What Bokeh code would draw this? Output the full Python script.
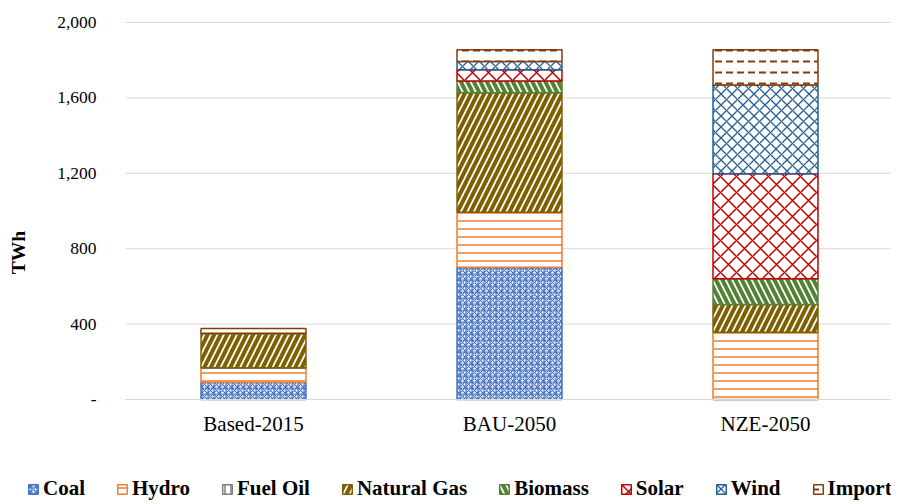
from bokeh.plotting import figure
from bokeh.models import ColumnDataSource, FixedTicker, Range1d, Legend
from bokeh.embed import file_html
from bokeh.resources import INLINE

categories = ["Based-2015", "BAU-2050", "NZE-2050"]
coal = [92, 702, 0]
hydro = [74, 291, 357]
fuel_oil = [3, 0, 0]
natural_gas = [180, 634, 147]
biomass = [3, 62, 136]
solar = [0, 60, 557]
wind = [0, 44, 472]
imports = [24, 62, 186]

series_names = ["Coal", "Hydro", "Fuel Oil", "Natural Gas", "Biomass", "Solar", "Wind", "Import"]
keys = ["coal", "hydro", "fuel_oil", "natural_gas", "biomass", "solar", "wind", "imports"]
colors = ["#4472C4", "#ED7D31", "#7F7F7F", "#7F6000", "#548235", "#C00000", "#255E91", "#843C0C"]
patterns = ["criss_cross", "horizontal_line", "vertical_line", "right_diagonal_line",
            "left_diagonal_line", "diagonal_cross", "diagonal_cross", "horizontal_dash"]
scales = [6, 8, 6, 13, 13, 16, 11, 11]
weights = [1.2, 1.5, 1.5, 4, 4, 1.5, 1.3, 2]

y_ticks = [0, 400, 800, 1200, 1600, 2000]
y_labels = ["-", "400", "800", "1,200", "1,600", "2,000"]

n = len(categories)
xpos = [i + 0.5 for i in range(n)]

source = ColumnDataSource(dict(x=xpos, coal=coal, hydro=hydro, fuel_oil=fuel_oil,
                               natural_gas=natural_gas, biomass=biomass, solar=solar,
                               wind=wind, imports=imports))

W, H = 891, 504
left_px, cat_px = 125, 256.0
top_px, zero_px = 22, 399
y_max = 2000
px_per_unit = (zero_px - top_px) / y_max

p = figure(x_range=Range1d(-left_px / cat_px, (W - left_px) / cat_px),
           y_range=Range1d(-(H - zero_px) / px_per_unit, y_max + top_px / px_per_unit),
           width=W, height=H, output_backend="svg", toolbar_location=None,
           min_border_left=0, min_border_right=0, min_border_top=0, min_border_bottom=0)
p.outline_line_color = None
p.xgrid.visible = False
p.ygrid.visible = False

# horizontal gridlines across the category area
p.segment(x0=[0] * len(y_ticks), x1=[n] * len(y_ticks), y0=y_ticks, y1=y_ticks,
          line_color="#D9D9D9", line_width=1, level="underlay")

renderers = p.vbar_stack(keys, x="x", width=0.41, source=source,
                         fill_color="white", line_color=colors, line_width=1.5,
                         hatch_color=colors, hatch_pattern=patterns, hatch_scale=scales,
                         hatch_weight=weights)

p.yaxis.fixed_location = 0
p.yaxis.ticker = FixedTicker(ticks=y_ticks)
p.yaxis.major_label_overrides = {t: l for t, l in zip(y_ticks, y_labels)}
p.yaxis.axis_line_color = None
p.yaxis.major_tick_line_color = None
p.yaxis.minor_tick_line_color = None
p.yaxis.major_label_standoff = 23
p.yaxis.major_label_text_font = "Liberation Serif"
p.yaxis.major_label_text_font_size = "17.5px"
p.yaxis.major_label_text_color = "#000000"
p.yaxis.axis_label = "TWh"
p.yaxis.axis_label_text_font = "Liberation Serif"
p.yaxis.axis_label_text_font_style = "bold"
p.yaxis.axis_label_text_font_size = "19.5px"
p.yaxis.axis_label_text_color = "#000000"
p.yaxis.axis_label_standoff = 25

p.xaxis.fixed_location = 0
p.xaxis.bounds = (0, n)
p.xaxis.ticker = FixedTicker(ticks=xpos)
p.xaxis.major_label_overrides = {x: c for x, c in zip(xpos, categories)}
p.xaxis.axis_line_color = "#D9D9D9"
p.xaxis.axis_line_width = 1
p.xaxis.major_tick_line_color = None
p.xaxis.minor_tick_line_color = None
p.xaxis.major_label_standoff = 6
p.xaxis.major_label_text_font = "Liberation Serif"
p.xaxis.major_label_text_font_size = "21px"
p.xaxis.major_label_text_color = "#000000"

lg = Legend(items=[(nm, [r]) for nm, r in zip(series_names, renderers)])
lg.orientation = "horizontal"
lg.location = (27, 3)
lg.padding = 0
lg.margin = 0
lg.spacing = 31
lg.glyph_width = 12
lg.glyph_height = 12
lg.label_standoff = 4
lg.border_line_color = None
lg.background_fill_alpha = 0
lg.label_text_font = "Liberation Serif"
lg.label_text_font_style = "bold"
lg.label_text_font_size = "21px"
lg.label_text_color = "#000000"
p.add_layout(lg, "center")

open("out.html", "w").write(file_html(p, INLINE))
